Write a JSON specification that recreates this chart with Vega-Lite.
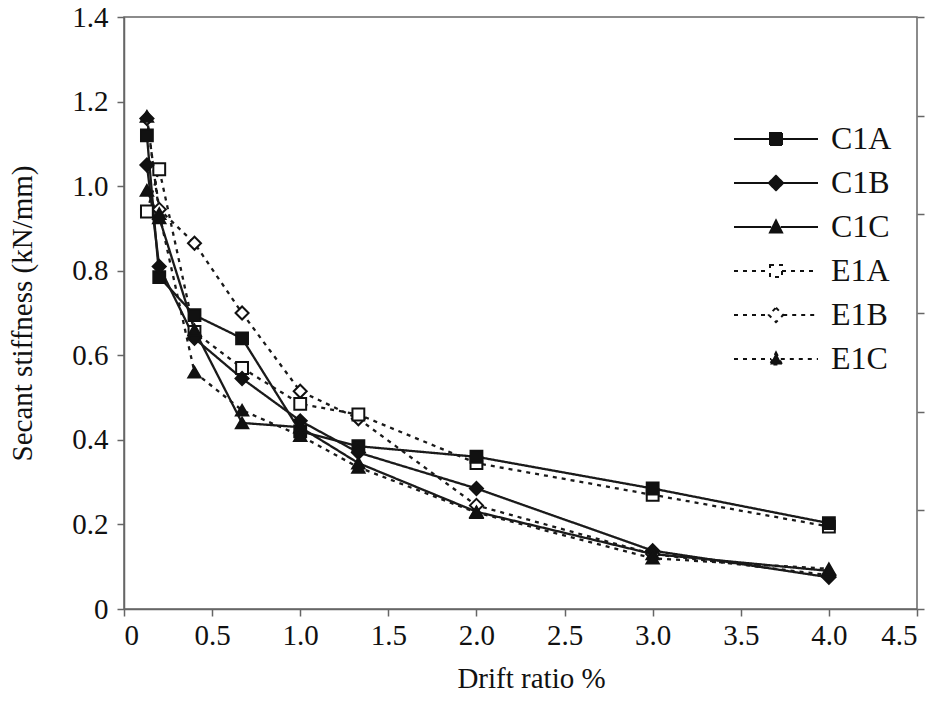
{
  "$schema": "https://vega.github.io/schema/vega-lite/v6.json",
  "width": 793,
  "height": 592,
  "autosize": "none",
  "padding": {"left": 124, "top": 17, "right": 19, "bottom": 93},
  "background": "white",
  "config": {
    "font": "Liberation Serif",
    "view": {"stroke": "#666", "strokeWidth": 1.5},
    "axis": {"grid": false, "domainColor": "#666", "domainWidth": 1.5, "tickColor": "#666", "tickWidth": 1.5, "tickSize": 7, "labelFont": "Liberation Serif", "titleFont": "Liberation Serif", "labelColor": "#111", "titleColor": "#111", "labelFontSize": 29, "titleFontSize": 29, "titleFontWeight": "normal"}
  },
  "data": {"values": [
    {"series": "C1A", "x": 0.13, "y": 1.12}, {"series": "C1A", "x": 0.2, "y": 0.785}, {"series": "C1A", "x": 0.4, "y": 0.695}, {"series": "C1A", "x": 0.67, "y": 0.64}, {"series": "C1A", "x": 1.0, "y": 0.42}, {"series": "C1A", "x": 1.33, "y": 0.385}, {"series": "C1A", "x": 2.0, "y": 0.36}, {"series": "C1A", "x": 3.0, "y": 0.285}, {"series": "C1A", "x": 4.0, "y": 0.203},
    {"series": "C1B", "x": 0.13, "y": 1.05}, {"series": "C1B", "x": 0.2, "y": 0.81}, {"series": "C1B", "x": 0.4, "y": 0.64}, {"series": "C1B", "x": 0.67, "y": 0.545}, {"series": "C1B", "x": 1.0, "y": 0.445}, {"series": "C1B", "x": 1.33, "y": 0.37}, {"series": "C1B", "x": 2.0, "y": 0.285}, {"series": "C1B", "x": 3.0, "y": 0.138}, {"series": "C1B", "x": 4.0, "y": 0.075},
    {"series": "C1C", "x": 0.13, "y": 0.99}, {"series": "C1C", "x": 0.2, "y": 0.925}, {"series": "C1C", "x": 0.4, "y": 0.66}, {"series": "C1C", "x": 0.67, "y": 0.44}, {"series": "C1C", "x": 1.0, "y": 0.43}, {"series": "C1C", "x": 1.33, "y": 0.345}, {"series": "C1C", "x": 2.0, "y": 0.23}, {"series": "C1C", "x": 3.0, "y": 0.13}, {"series": "C1C", "x": 4.0, "y": 0.09},
    {"series": "E1A", "x": 0.13, "y": 0.94}, {"series": "E1A", "x": 0.2, "y": 1.04}, {"series": "E1A", "x": 0.4, "y": 0.655}, {"series": "E1A", "x": 0.67, "y": 0.57}, {"series": "E1A", "x": 1.0, "y": 0.485}, {"series": "E1A", "x": 1.33, "y": 0.46}, {"series": "E1A", "x": 2.0, "y": 0.345}, {"series": "E1A", "x": 3.0, "y": 0.27}, {"series": "E1A", "x": 4.0, "y": 0.195},
    {"series": "E1B", "x": 0.13, "y": 1.16}, {"series": "E1B", "x": 0.2, "y": 0.945}, {"series": "E1B", "x": 0.4, "y": 0.865}, {"series": "E1B", "x": 0.67, "y": 0.7}, {"series": "E1B", "x": 1.0, "y": 0.515}, {"series": "E1B", "x": 1.33, "y": 0.45}, {"series": "E1B", "x": 2.0, "y": 0.245}, {"series": "E1B", "x": 3.0, "y": 0.13}, {"series": "E1B", "x": 4.0, "y": 0.08},
    {"series": "E1C", "x": 0.13, "y": 1.165}, {"series": "E1C", "x": 0.2, "y": 0.935}, {"series": "E1C", "x": 0.4, "y": 0.56}, {"series": "E1C", "x": 0.67, "y": 0.47}, {"series": "E1C", "x": 1.0, "y": 0.41}, {"series": "E1C", "x": 1.33, "y": 0.335}, {"series": "E1C", "x": 2.0, "y": 0.228}, {"series": "E1C", "x": 3.0, "y": 0.12}, {"series": "E1C", "x": 4.0, "y": 0.095}
  ]},
  "layer": [
    {
      "mark": {"type": "line", "color": "#1a1a1a", "strokeWidth": 2.3},
      "encoding": {
        "x": {"field": "x", "type": "quantitative", "scale": {"domain": [0, 4.5], "nice": false}, "axis": {"values": [0, 0.5, 1, 1.5, 2, 2.5, 3, 3.5, 4, 4.5], "labelExpr": "datum.value == 0 ? '0' : format(datum.value, '.1f')", "title": "Drift ratio %", "titlePadding": 14, "labelPadding": 5, "titleX": 407, "titleAlign": "center"}},
        "y": {"field": "y", "type": "quantitative", "scale": {"domain": [0, 1.4], "nice": false}, "axis": {"values": [0, 0.2, 0.4, 0.6, 0.8, 1.0, 1.2, 1.4], "labelExpr": "datum.value == 0 ? '0' : format(datum.value, '.1f')", "title": "Secant stiffness (kN/mm)", "titlePadding": 34, "labelPadding": 9}},
        "strokeDash": {"field": "series", "type": "nominal", "scale": {"domain": ["C1A", "C1B", "C1C", "E1A", "E1B", "E1C"], "range": [[1, 0], [1, 0], [1, 0], [4, 5], [4, 5], [4, 5]]},
          "legend": {"title": null, "orient": "none", "legendX": 601, "legendY": 106, "padding": 0, "symbolSize": 144, "symbolStrokeWidth": 2, "symbolOffset": 35, "labelOffset": 39, "labelFontSize": 32, "labelFont": "Liberation Serif", "labelColor": "#111", "rowPadding": 12,
            "symbolType": {"expr": "datum.value == 'C1A' || datum.value == 'E1A' ? 'M-7,0H-1M1,0H7M-1,-1H1V1H-1Z' : (datum.value == 'C1B' || datum.value == 'E1B') ? 'M-7,0H-1.2M1.2,0H7M0,-1.2L1.2,0L0,1.2L-1.2,0Z' : 'M-7,0H-0.8M0.8,0H7M0,-1.1L1,0.9H-1Z'"},
            "symbolFillColor": {"expr": "datum.value == 'E1A' || datum.value == 'E1B' ? 'white' : '#111'"},
            "symbolStrokeColor": "#111"
          }}
      }
    },
    {
      "transform": [{"filter": "datum.series == 'E1B'"}],
      "mark": {"type": "point", "shape": "diamond", "filled": false, "fill": "white", "stroke": "#111", "strokeWidth": 2, "size": 170, "opacity": 1},
      "encoding": {
        "x": {"field": "x", "type": "quantitative"},
        "y": {"field": "y", "type": "quantitative", "axis": {"orient": "right", "values": [0, 0.23333, 0.46667, 0.7, 0.93333, 1.16667, 1.4], "labels": false, "domain": false, "title": null, "tickSize": 7}}
      }
    },
    {
      "transform": [{"filter": "datum.series == 'E1A'"}],
      "mark": {"type": "point", "shape": "square", "filled": false, "fill": "white", "stroke": "#111", "strokeWidth": 2, "size": 140, "opacity": 1},
      "encoding": {
        "x": {"field": "x", "type": "quantitative"},
        "y": {"field": "y", "type": "quantitative", "axis": null}
      }
    },
    {
      "transform": [{"filter": "datum.series == 'C1A'"}],
      "mark": {"type": "point", "shape": "square", "filled": true, "color": "#111", "stroke": "#111", "strokeWidth": 2, "size": 140, "opacity": 1},
      "encoding": {
        "x": {"field": "x", "type": "quantitative"},
        "y": {"field": "y", "type": "quantitative", "axis": null}
      }
    },
    {
      "transform": [{"filter": "datum.series == 'C1B'"}],
      "mark": {"type": "point", "shape": "diamond", "filled": true, "color": "#111", "stroke": "#111", "strokeWidth": 2, "size": 170, "opacity": 1},
      "encoding": {
        "x": {"field": "x", "type": "quantitative"},
        "y": {"field": "y", "type": "quantitative", "axis": null}
      }
    },
    {
      "transform": [{"filter": "datum.series == 'C1C' || datum.series == 'E1C'"}],
      "mark": {"type": "point", "shape": "triangle-up", "filled": true, "color": "#111", "stroke": "#111", "strokeWidth": 2, "size": 150, "opacity": 1},
      "encoding": {
        "x": {"field": "x", "type": "quantitative"},
        "y": {"field": "y", "type": "quantitative", "axis": null}
      }
    }
  ],
  "resolve": {"axis": {"y": "independent"}}
}
